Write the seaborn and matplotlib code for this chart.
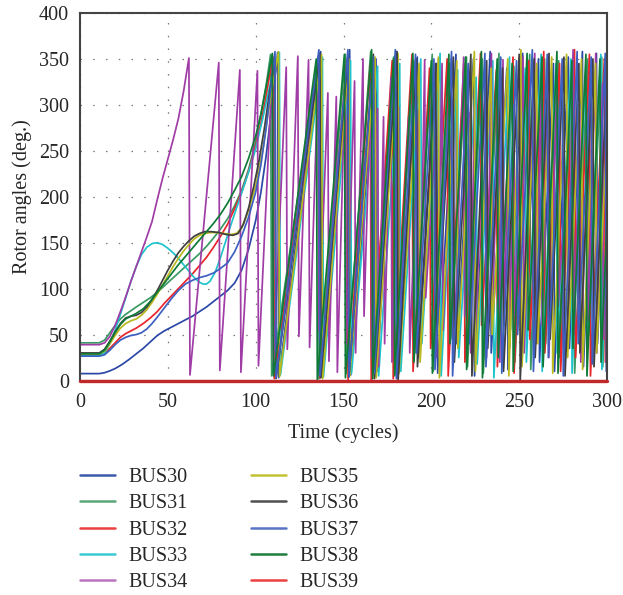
import numpy as np
import pandas as pd
import matplotlib
matplotlib.use("Agg")
import matplotlib.pyplot as plt
from matplotlib.lines import Line2D
import seaborn as sns

# ---------------- data ----------------
buses = ["BUS30", "BUS31", "BUS32", "BUS33", "BUS34",
         "BUS35", "BUS36", "BUS37", "BUS38", "BUS39"]

# smooth part of each curve before the first wrap (time in cycles, angle in deg.)
bus30_t = [0, 11, 14, 17, 20, 24, 28, 32, 36, 40, 44, 48, 52, 56, 60, 64, 68, 72, 76, 80, 84, 88, 92, 96, 100, 103, 106, 109]
bus30_v = [7.5, 7.5, 8.5, 10.5, 13, 17.5, 23, 29, 35, 42, 49, 54, 58, 62, 66, 70, 75, 80, 86, 92, 98, 106, 120, 143, 174, 205, 245, 295]
bus31_t = [0, 11, 14, 17, 20, 23, 26, 29, 32, 36, 40, 44, 48, 52, 56, 60, 64, 68, 72, 76, 80, 84, 88, 92, 96, 100, 103, 106]
bus31_v = [41, 41, 44, 52, 60, 67, 72, 76, 80, 85, 90, 96, 103, 110, 117, 124, 131, 138, 146, 155, 165, 176, 190, 207, 230, 260, 290, 322]
bus32_t = [0, 11, 14, 17, 20, 23, 26, 29, 32, 36, 40, 44, 48, 52, 56, 60, 64, 68, 72, 76, 80, 84, 88, 92, 96, 100, 103, 106, 108]
bus32_v = [28, 28, 30, 35, 41, 47, 51, 54, 57, 62, 68, 75, 84, 92, 100, 108, 116, 125, 134, 145, 157, 170, 187, 205, 228, 255, 280, 310, 333]
bus33_t = [0, 11, 14, 17, 20, 23, 26, 29, 32, 35, 38, 41, 44, 47, 50, 53, 56, 59, 62, 65, 68, 70, 72, 74, 77, 80, 83, 86, 89, 92, 96, 100, 104, 108, 111]
bus33_v = [27, 27, 30, 40, 55, 72, 90, 108, 124, 137, 145, 149, 150, 148, 144, 139, 133, 126, 119, 112, 107, 105, 105, 108, 118, 134, 152, 170, 187, 204, 227, 252, 285, 320, 345]
bus34_t = [0, 11, 14, 17, 20, 23, 26, 29, 32, 35, 38, 41, 44, 47, 50, 53, 56, 59]
bus34_v = [39, 39, 41, 48, 60, 75, 91, 108, 124, 140, 156, 173, 197, 220, 241, 262, 285, 315]
bus35_t = [0, 11, 14, 17, 20, 23, 26, 29, 32, 35, 38, 41, 44, 47, 50, 53, 56, 59, 62, 65, 68, 71, 74, 78, 82, 86, 89, 92, 95, 98, 101, 104, 107, 110]
bus35_v = [29, 29, 32, 40, 49, 57, 62, 65, 67, 71, 77, 85, 94, 104, 114, 124, 133, 141, 148, 154, 158, 160, 161, 161, 160, 159, 160, 166, 180, 198, 220, 250, 290, 325]
bus36_t = [0, 11, 14, 17, 20, 23, 26, 29, 32, 35, 38, 41, 44, 47, 50, 53, 56, 59, 62, 65, 68, 71, 75, 79, 83, 87, 90, 93, 96, 99, 102, 105, 108]
bus36_v = [30, 30, 34, 43, 53, 62, 68, 70, 71, 74, 80, 88, 98, 109, 120, 130, 139, 146, 152, 157, 160, 162, 162, 161, 159, 158, 160, 170, 188, 212, 240, 275, 315]
bus37_t = [0, 11, 14, 17, 20, 23, 26, 29, 32, 35, 38, 41, 44, 48, 52, 56, 60, 64, 68, 72, 76, 80, 84, 88, 92, 96, 100, 103, 106, 109]
bus37_v = [26.5, 26.5, 28, 33, 39, 44, 47, 49, 50, 52, 56, 62, 69, 79, 89, 98, 105, 109, 112, 114, 117, 122, 128, 140, 157, 178, 205, 235, 275, 325]
bus38_t = [0, 11, 14, 17, 20, 23, 26, 29, 32, 36, 40, 44, 48, 52, 56, 60, 64, 68, 72, 76, 80, 84, 88, 92, 96, 100, 103, 106]
bus38_v = [29, 29, 33, 42, 52, 61, 67, 70, 73, 78, 86, 96, 106, 116, 126, 135, 144, 153, 162, 171, 181, 193, 207, 222, 242, 266, 290, 320]
bus39_t = [0, 300]
bus39_v = [0, 0]

# wrap-around teeth: time of each peak, angle at the peak, angle right after the wrap
bus30_peak_t = [112.5, 137, 153.5, 168.5, 180, 192, 203, 214, 224, 233.5, 243, 252, 261, 269.5, 278, 286, 294, 301.5]
bus30_peak_v = [357, 358, 360, 350, 358, 352, 345, 355, 350, 358, 340, 356, 350, 345, 352, 358, 356, 350]
bus30_low_v = [3, 4, 6, 10, 3, 25, 8, 40, 5, 30, 12, 55, 20, 10, 35, 15, 40, 20]

bus31_peak_t = [108.5, 135.5, 151, 165.5, 178.5, 190, 200.5, 210.5, 220, 229, 238.5, 247, 256, 264.5, 272.5, 281, 289, 297, 305]
bus31_peak_v = [355, 350, 355, 358, 352, 348, 355, 345, 352, 350, 356, 342, 355, 350, 348, 355, 350, 352, 350]
bus31_low_v = [5, 2, 8, 12, 5, 30, 10, 45, 15, 8, 60, 20, 12, 40, 25, 8, 50, 15, 10]

bus32_peak_t = [110, 136, 152, 165.2, 177.7, 189, 199, 209, 218.5, 228, 237, 246.5, 255.5, 264, 273, 281.5, 290, 298.5]
bus32_peak_v = [352, 355, 350, 343, 348, 355, 340, 350, 345, 356, 338, 352, 348, 358, 345, 360, 355, 350]
bus32_low_v = [2, 3, 1, 0, 2, 10, 35, 5, 20, 60, 15, 8, 45, 30, 10, 25, 5, 20]

bus33_peak_t = [113.5, 138, 154, 169.4, 182, 194, 205, 215, 225.5, 235, 244.5, 253.5, 262.5, 271, 279.5, 288, 296.5, 304]
bus33_peak_v = [357, 352, 348, 342, 345, 350, 356, 338, 330, 348, 352, 340, 355, 345, 350, 342, 355, 350]
bus33_low_v = [6, 4, 8, 5, 10, 40, 5, 25, 18, 3, 55, 20, 10, 30, 8, 45, 12, 10]

bus34_peak_t = [62, 79, 91, 101, 109.5, 117.4, 124, 130.1, 135.5, 141.1, 145.9, 151, 156.3, 161.1, 165.5,
                169.4, 172.8, 177, 181.4, 187.1, 192.8, 196.2, 202.3, 206.1, 212.4, 218.4, 221.8, 224.5,
                230.8, 234.2, 238.4, 240.8, 244, 246.9, 252.2, 258.9, 262.5, 266.3, 271.6, 277.3, 280.7,
                284.5, 288.7, 293.6, 297.4, 302]
bus34_peak_v = [351, 346, 338, 337, 340, 341, 353, 349, 330, 313, 309, 335, 326, 350, 320,
                296, 287, 330, 298, 287, 295, 349, 265, 345, 305, 352, 291, 299,
                331, 356, 294, 349, 269, 300, 352, 356, 320, 325, 331, 238, 360,
                291, 232, 356, 323, 340]
bus34_low_v = [6, 11, 9, 16, 15, 34, 48, 36, 55, 21, 9, 40, 30, 70, 25,
               15, 40, 20, 60, 30, 45, 90, 25, 55, 35, 70, 30, 50,
               25, 80, 20, 60, 35, 70, 30, 40, 60, 25, 80, 35, 50,
               20, 65, 30, 45, 40]

bus35_peak_t = [113, 137.5, 153, 168, 181, 193, 204, 214.5, 224.5, 234, 243.5, 251, 260, 268.5, 277, 285.5, 293.5, 302]
bus35_peak_v = [358, 355, 350, 352, 356, 345, 352, 348, 358, 340, 350, 360, 345, 352, 355, 350, 345, 350]
bus35_low_v = [4, 2, 5, 3, 8, 20, 3, 35, 10, 50, 5, 15, 40, 8, 25, 12, 30, 10]

bus36_peak_t = [111, 136.5, 152.5, 167, 180.5, 191.5, 202.5, 212.5, 222.5, 231.5, 240.5, 250, 258.5, 267, 275.5, 284, 292, 300.5]
bus36_peak_v = [350, 356, 352, 355, 358, 350, 345, 352, 355, 348, 340, 355, 350, 356, 352, 345, 350, 355]
bus36_low_v = [2, 3, 4, 2, 0, 15, 50, 20, 5, 35, 10, 0, 25, 45, 5, 30, 15, 8]

bus37_peak_t = [111, 136, 152.5, 167, 179.5, 191, 201.5, 211.5, 221, 230.5, 239.5, 248.5, 257.5, 266, 274.5, 283, 291, 299]
bus37_peak_v = [358, 360, 360, 352, 360, 355, 350, 358, 345, 356, 352, 348, 360, 355, 350, 358, 352, 356]
bus37_low_v = [3, 5, 4, 8, 2, 30, 12, 5, 40, 15, 8, 50, 10, 25, 5, 40, 18, 10]

bus38_peak_t = [109.5, 134.5, 150.5, 166, 178.5, 189.5, 200, 210, 219.5, 228.5, 237.5, 246, 254.5, 263, 271.5, 280, 288, 296, 304]
bus38_peak_v = [356, 350, 355, 360, 350, 356, 348, 355, 352, 358, 350, 345, 356, 352, 358, 348, 355, 350, 350]
bus38_low_v = [5, 0, 3, 2, 6, 20, 8, 40, 12, 3, 25, 10, 55, 15, 8, 35, 5, 20, 10]

colors = {"BUS30": "#2b48a6", "BUS31": "#3a9a62", "BUS32": "#e8252a", "BUS33": "#1fc3cc",
          "BUS34": "#a03ca6", "BUS35": "#b9b91e", "BUS36": "#3f3f3f", "BUS37": "#3d5fc0",
          "BUS38": "#0e7a36", "BUS39": "#c0282a"}
legend_colors = {"BUS30": "#3a5aaa", "BUS31": "#5aa878", "BUS32": "#ec4040", "BUS33": "#3ccad2",
                 "BUS34": "#bb72bf", "BUS35": "#c2c232", "BUS36": "#505050", "BUS37": "#5a74c4",
                 "BUS38": "#1e7e3e", "BUS39": "#ec4040"}

# ---------------- assemble long-form table ----------------
smooth = {"BUS30": (bus30_t, bus30_v), "BUS31": (bus31_t, bus31_v), "BUS32": (bus32_t, bus32_v),
          "BUS33": (bus33_t, bus33_v), "BUS34": (bus34_t, bus34_v), "BUS35": (bus35_t, bus35_v),
          "BUS36": (bus36_t, bus36_v), "BUS37": (bus37_t, bus37_v), "BUS38": (bus38_t, bus38_v),
          "BUS39": (bus39_t, bus39_v)}
teeth = {"BUS30": (bus30_peak_t, bus30_peak_v, bus30_low_v),
         "BUS31": (bus31_peak_t, bus31_peak_v, bus31_low_v),
         "BUS32": (bus32_peak_t, bus32_peak_v, bus32_low_v),
         "BUS33": (bus33_peak_t, bus33_peak_v, bus33_low_v),
         "BUS34": (bus34_peak_t, bus34_peak_v, bus34_low_v),
         "BUS35": (bus35_peak_t, bus35_peak_v, bus35_low_v),
         "BUS36": (bus36_peak_t, bus36_peak_v, bus36_low_v),
         "BUS37": (bus37_peak_t, bus37_peak_v, bus37_low_v),
         "BUS38": (bus38_peak_t, bus38_peak_v, bus38_low_v)}

DROP = 0.6
rows = []
for b in buses:
    ts, vs = smooth[b]
    for t, v in zip(ts, vs):
        rows.append((b, t, v))
    if b in teeth:
        pt, pv, lv = teeth[b]
        for t, p, l in zip(pt, pv, lv):
            rows.append((b, t, p))
            rows.append((b, t + DROP, l))
df = pd.DataFrame(rows, columns=["bus", "t", "v"])

# ---------------- plot ----------------
sns.set_style("white")
plt.rcParams["font.family"] = ["Liberation Serif", "DejaVu Serif"]

W, H = 623, 595
fig = plt.figure(figsize=(W / 100, H / 100), dpi=100)
ax = fig.add_axes([80 / W, 1 - 380.5 / H, (607 - 80) / W, (380.5 - 13) / H])

sns.lineplot(data=df, x="t", y="v", hue="bus", hue_order=buses, palette=colors,
             sort=False, estimator=None, legend=False, linewidth=1.25, ax=ax)
ax.lines[-1].set_linewidth(2.4)
ax.lines[-1].set_clip_on(False)
ax.lines[-1].set_zorder(5)

FS = 14.5
ax.set_xlim(0, 300)
ax.set_ylim(0, 400)
ax.set_xticks(range(0, 301, 50))
ax.set_yticks(range(0, 401, 50))
ax.tick_params(axis="both", labelsize=FS, direction="in", length=4, width=1, color="#333333")
ax.tick_params(axis="x", pad=9)
ax.tick_params(axis="y", pad=8)
ax.set_xlabel("Time (cycles)", fontsize=FS, labelpad=8)
ax.set_ylabel("Rotor angles (deg.)", fontsize=FS, labelpad=5)
ax.grid(True, color="#777777", linestyle=(0, (1.2, 9)), linewidth=0.9)
for s in ax.spines.values():
    s.set_color("#444444")
    s.set_linewidth(1.5)
ax.set_axisbelow(True)

handles = [Line2D([], [], color=legend_colors[b], linewidth=1.8) for b in buses]
leg = fig.legend(handles, buses, ncol=2, loc="upper left",
                 bbox_to_anchor=(80 / W, 1 - 468 / H), frameon=False,
                 fontsize=FS, handlelength=1.75, handletextpad=0.65,
                 columnspacing=3.15, labelspacing=0.36, borderaxespad=0, borderpad=0)

fig.savefig("out.png", dpi=100)
